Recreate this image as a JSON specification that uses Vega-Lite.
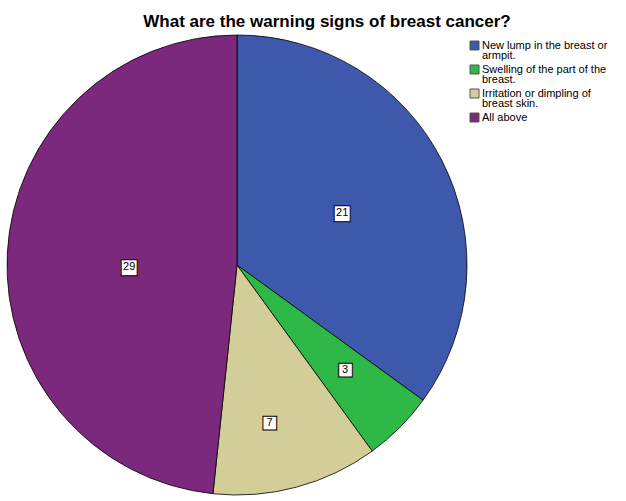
{
  "$schema": "https://vega.github.io/schema/vega-lite/v6.json",
  "autosize": "none",
  "width": 474,
  "height": 460,
  "padding": {"left": 0, "top": 35, "right": 152, "bottom": 6},
  "background": "white",
  "title": {
    "text": "What are the warning signs of breast cancer?",
    "font": "Liberation Sans",
    "fontSize": 17,
    "fontWeight": "bold",
    "color": "#000000",
    "anchor": "middle",
    "dx": 90,
    "offset": 2
  },
  "data": {
    "values": [
      {"i": 1, "label": "New lump in the breast or armpit.", "n": 21},
      {"i": 2, "label": "Swelling of the part of the breast.", "n": 3},
      {"i": 3, "label": "Irritation or dimpling of breast skin.", "n": 7},
      {"i": 4, "label": "All above", "n": 29}
    ]
  },
  "config": {"view": {"stroke": null}},
  "encoding": {
    "theta": {"field": "n", "type": "quantitative", "stack": true},
    "order": {"field": "i", "type": "quantitative"}
  },
  "layer": [
    {
      "mark": {"type": "arc", "outerRadius": 230, "stroke": "#000000", "strokeWidth": 0.8},
      "encoding": {
        "color": {
          "field": "label",
          "type": "nominal",
          "sort": null,
          "scale": {
            "domain": ["New lump in the breast or armpit.", "Swelling of the part of the breast.", "Irritation or dimpling of breast skin.", "All above"],
            "range": ["#3E58AC", "#2EB848", "#D3CE97", "#7C287D"]
          },
          "legend": {
            "title": null,
            "orient": "none",
            "legendX": 469,
            "legendY": 5,
            "symbolType": "square",
            "symbolSize": 81,
            "symbolStrokeColor": "#555555",
            "symbolStrokeWidth": 1,
            "symbolOpacity": 1,
            "labelFont": "Liberation Sans",
            "labelFontSize": 11,
            "labelColor": "#000000",
            "labelLimit": 200,
            "labelOffset": 2,
            "rowPadding": 2,
            "labelExpr": "datum.label == 'New lump in the breast or armpit.' ? ['New lump in the breast or', 'armpit.'] : datum.label == 'Swelling of the part of the breast.' ? ['Swelling of the part of the', 'breast.'] : datum.label == 'Irritation or dimpling of breast skin.' ? ['Irritation or dimpling of', 'breast skin.'] : datum.label",
            "encode": {"labels": {"update": {"lineHeight": {"value": 10}}}}
          }
        }
      }
    },
    {
      "mark": {
        "type": "text",
        "font": "DejaVu Sans",
        "fill": "#ffffff",
        "stroke": "#000000",
        "strokeWidth": 1,
        "baseline": "middle",
        "align": "center",
        "radius": {"expr": "datum.n == 21 ? 118 : datum.n == 3 ? 153 : datum.n == 7 ? 164 : 108"},
        "dx": {"expr": "datum.n == 7 ? -10 : 0"},
        "dy": {"expr": "datum.n == 21 ? 2 : datum.n == 3 ? -3 : datum.n == 29 ? 8 : 0"}
      },
      "encoding": {
        "text": {"value": "■"},
        "size": {"condition": {"test": "datum.n < 10", "value": 18}, "value": 21}
      }
    },
    {
      "mark": {
        "type": "text",
        "font": "Liberation Sans",
        "fontSize": 11,
        "color": "#000000",
        "baseline": "middle",
        "align": "center",
        "radius": {"expr": "datum.n == 21 ? 118 : datum.n == 3 ? 153 : datum.n == 7 ? 164 : 108"},
        "dx": {"expr": "datum.n == 7 ? -10 : 0"},
        "dy": {"expr": "datum.n == 21 ? 2 : datum.n == 3 ? -3 : datum.n == 29 ? 8 : 0"}
      },
      "encoding": {
        "text": {"field": "n", "type": "quantitative"}
      }
    }
  ]
}
